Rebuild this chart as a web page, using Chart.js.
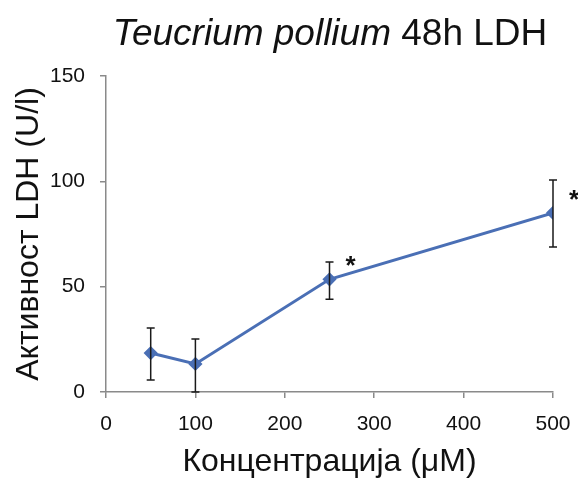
<!DOCTYPE html>
<html>
<head>
    <title>Teucrium pollium 48h LDH</title>
    <script src="https://cdn.jsdelivr.net/npm/chart.js"></script>
    <style>
        body { margin: 0; background-color: #ffffff; }
        #wrap { width: 578px; height: 485px; }
    </style>
</head>
<body>
    <div id="wrap"><canvas id="ldh-chart"></canvas></div>
<script>
    var concentrations = [50, 100, 250, 500];
    var ldhValues = [18.5, 13.3, 53.5, 85];
    var errLow = [5.7, 0, 44, 68.8];
    var errHigh = [30.4, 25.2, 61.7, 100.6];
    var significant = [false, false, true, true];
    var xTicks = [0, 100, 200, 300, 400, 500];
    var yTicks = [0, 50, 100, 150];

    var points = [];
    for (var i = 0; i < concentrations.length; i++) {
        points.push({ x: concentrations[i], y: ldhValues[i] });
    }

    // error bars + asterisks, drawn through the scales
    var errorBars = {
        id: 'errorBars',
        afterDatasetsDraw: function (chart) {
            var ctx = chart.ctx;
            var xs = chart.scales.x, ys = chart.scales.y;
            ctx.save();
            ctx.strokeStyle = '#1a1a1a';
            ctx.lineWidth = 1.5;
            for (var i = 0; i < concentrations.length; i++) {
                var px = xs.getPixelForValue(concentrations[i]);
                var py = ys.getPixelForValue(ldhValues[i]);
                var top = ys.getPixelForValue(errHigh[i]);
                var bot = ys.getPixelForValue(errLow[i]);
                ctx.beginPath();
                ctx.moveTo(px, top); ctx.lineTo(px, bot);
                ctx.moveTo(px - 4, top); ctx.lineTo(px + 4, top);
                ctx.moveTo(px - 4, bot); ctx.lineTo(px + 4, bot);
                ctx.stroke();
                if (significant[i]) {
                    ctx.fillStyle = '#111111';
                    ctx.font = 'bold 26px "Liberation Sans"';
                    ctx.textAlign = 'center';
                    ctx.textBaseline = 'alphabetic';
                    ctx.fillText('*', px + 21, py - 5);
                }
            }
            ctx.restore();
        },
        afterDraw: function (chart) {
            // title with italic species name
            var ctx = chart.ctx;
            ctx.save();
            ctx.fillStyle = '#111111';
            ctx.textBaseline = 'alphabetic';
            var f1 = 'italic 37px "Liberation Sans"';
            var f2 = '37px "Liberation Sans"';
            var t1 = 'Teucrium pollium', t2 = ' 48h LDH';
            ctx.font = f1; var w1 = ctx.measureText(t1).width;
            ctx.font = f2; var w2 = ctx.measureText(t2).width;
            var x0 = 330 - (w1 + w2) / 2;
            ctx.font = f1; ctx.textAlign = 'left';
            ctx.fillText(t1, x0, 45);
            ctx.font = f2;
            ctx.fillText(t2, x0 + w1, 45);
            ctx.restore();
        }
    };

    var ctx = document.getElementById('ldh-chart').getContext('2d');
    var ldhChart = new Chart(ctx, {
        type: 'scatter',
        data: {
            datasets: [{
                data: points,
                showLine: true,
                borderColor: '#4a6fb5',
                backgroundColor: '#4a6fb5',
                borderWidth: 3,
                pointStyle: 'rectRot',
                pointRadius: 5,
                tension: 0
            }]
        },
        options: {
            responsive: true,
            maintainAspectRatio: false,
            animation: false,
            layout: { padding: { top: 76, right: 25, left: 6, bottom: 0 } },
            plugins: {
                legend: { display: false },
                tooltip: { enabled: false }
            },
            scales: {
                x: {
                    type: 'linear',
                    min: 0, max: 500,
                    afterBuildTicks: function (s) { s.ticks = xTicks.map(function (v) { return { value: v }; }); },
                    afterFit: function (s) { s.height = 93; s.paddingLeft = 0; s.paddingRight = 0; },
                    grid: { drawOnChartArea: false, drawTicks: true, tickLength: 6, color: '#8a8a8a', lineWidth: 1.5 },
                    border: { color: '#8a8a8a', width: 1.5 },
                    ticks: { color: '#111111', font: { family: 'Liberation Sans', size: 21 }, padding: 14 },
                    title: { display: true, text: 'Концентрација (μM)', color: '#111111', font: { family: 'Liberation Sans', size: 32 }, padding: { top: 4 } }
                },
                y: {
                    min: 0, max: 150,
                    afterBuildTicks: function (s) { s.ticks = yTicks.map(function (v) { return { value: v }; }); },
                    afterFit: function (s) { s.width = 100; s.paddingTop = 0; s.paddingBottom = 0; },
                    grid: { drawOnChartArea: false, drawTicks: true, tickLength: 6, color: '#8a8a8a', lineWidth: 1.5 },
                    border: { color: '#8a8a8a', width: 1.5 },
                    ticks: { color: '#111111', font: { family: 'Liberation Sans', size: 21 }, padding: 15 },
                    title: { display: true, text: 'Активност LDH (U/l)', color: '#111111', font: { family: 'Liberation Sans', size: 32 }, padding: { bottom: 4 } }
                }
            }
        },
        plugins: [errorBars]
    });
</script>
</body>
</html>
